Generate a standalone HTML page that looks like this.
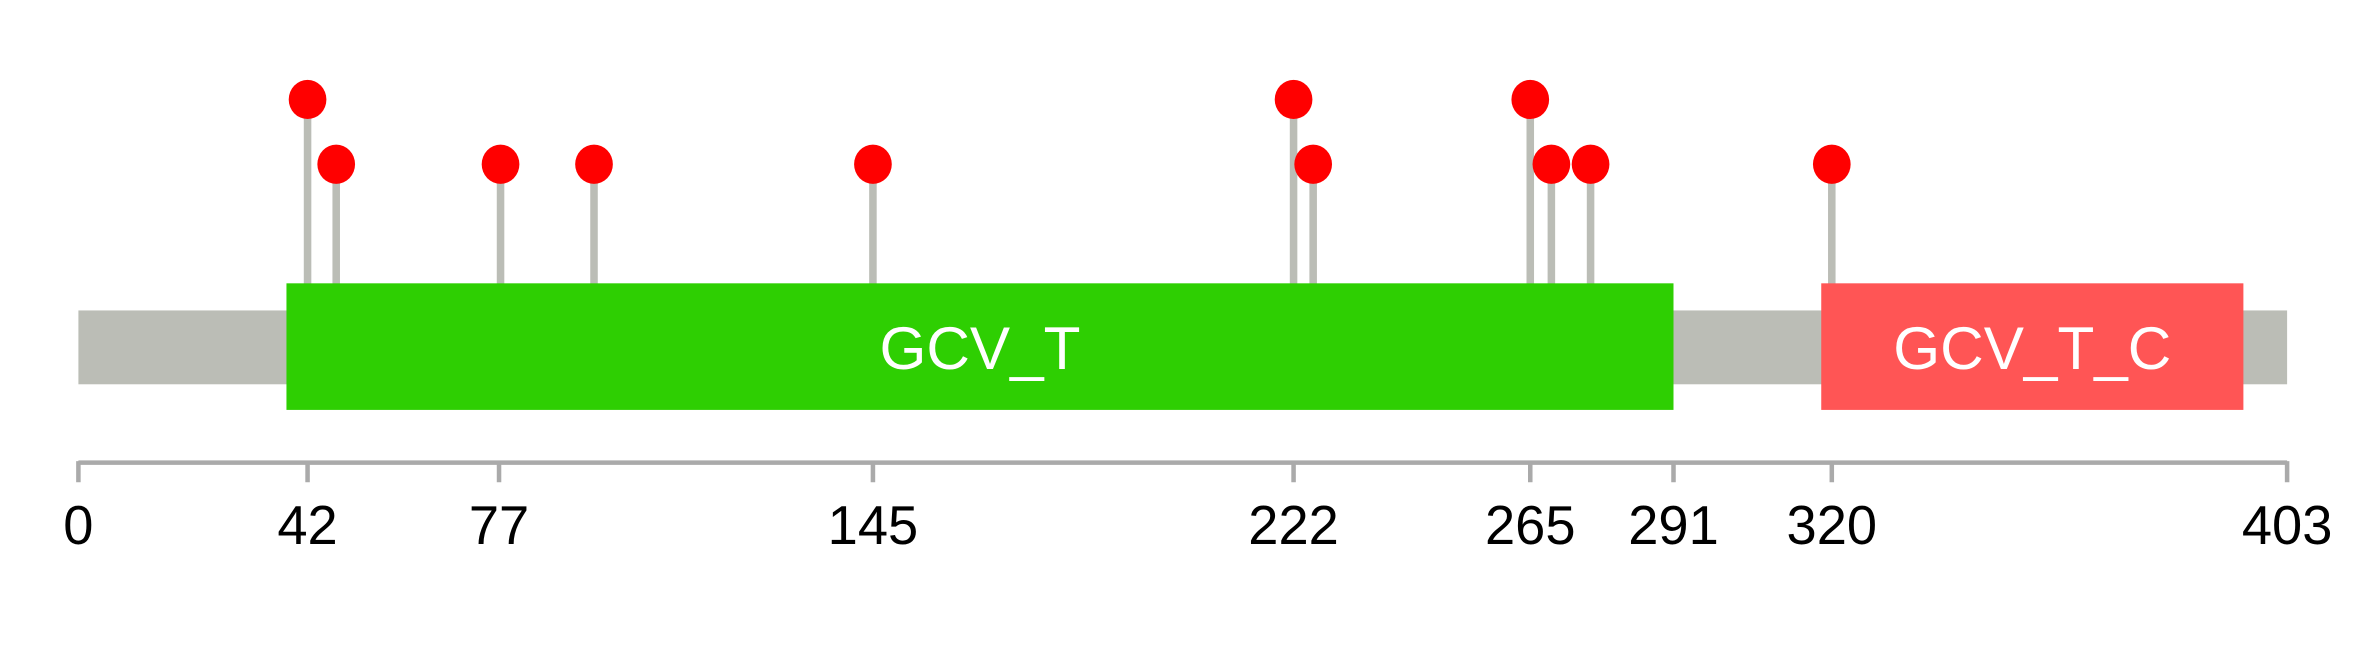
<!DOCTYPE html>
<html><head><meta charset="utf-8"><style>html,body{margin:0;padding:0;background:#fff}svg{display:block}</style></head>
<body>
<svg width="2364" height="645" viewBox="0 0 1568 428" preserveAspectRatio="none" xmlns="http://www.w3.org/2000/svg" font-family="Liberation Sans, sans-serif">
<rect x="52" y="206" width="1465" height="49" fill="#bbbdb6"/>
<g stroke="#bbbdb6" stroke-width="5">
<line x1="204" y1="66" x2="204" y2="190"/>
<line x1="223" y1="109" x2="223" y2="190"/>
<line x1="332" y1="109" x2="332" y2="190"/>
<line x1="394" y1="109" x2="394" y2="190"/>
<line x1="579" y1="109" x2="579" y2="190"/>
<line x1="858" y1="66" x2="858" y2="190"/>
<line x1="871" y1="109" x2="871" y2="190"/>
<line x1="1015" y1="66" x2="1015" y2="190"/>
<line x1="1029" y1="109" x2="1029" y2="190"/>
<line x1="1055" y1="109" x2="1055" y2="190"/>
<line x1="1215" y1="109" x2="1215" y2="190"/>
</g>
<rect x="190" y="188" width="920" height="84" fill="#2ecf02"/>
<rect x="1208" y="188" width="280" height="84" fill="#ff5555"/>
<text x="650" y="245" font-size="40" fill="#fff" text-anchor="middle">GCV_T</text>
<text x="1348" y="245" font-size="40" fill="#fff" text-anchor="middle">GCV_T_C</text>
<g fill="#ff0000">
<ellipse cx="204" cy="66" rx="12.5" ry="13"/>
<ellipse cx="223" cy="109" rx="12.5" ry="13"/>
<ellipse cx="332" cy="109" rx="12.5" ry="13"/>
<ellipse cx="394" cy="109" rx="12.5" ry="13"/>
<ellipse cx="579" cy="109" rx="12.5" ry="13"/>
<ellipse cx="858" cy="66" rx="12.5" ry="13"/>
<ellipse cx="871" cy="109" rx="12.5" ry="13"/>
<ellipse cx="1015" cy="66" rx="12.5" ry="13"/>
<ellipse cx="1029" cy="109" rx="12.5" ry="13"/>
<ellipse cx="1055" cy="109" rx="12.5" ry="13"/>
<ellipse cx="1215" cy="109" rx="12.5" ry="13"/>
</g>
<g stroke="#aaaaaa" stroke-width="3">
<line x1="52" y1="307" x2="1517" y2="307"/>
<line x1="52" y1="306" x2="52" y2="320"/>
<line x1="204" y1="306" x2="204" y2="320"/>
<line x1="331" y1="306" x2="331" y2="320"/>
<line x1="579" y1="306" x2="579" y2="320"/>
<line x1="858" y1="306" x2="858" y2="320"/>
<line x1="1015" y1="306" x2="1015" y2="320"/>
<line x1="1110" y1="306" x2="1110" y2="320"/>
<line x1="1215" y1="306" x2="1215" y2="320"/>
<line x1="1517" y1="306" x2="1517" y2="320"/>
</g>
<g font-size="36" fill="#000" text-anchor="middle">
<text x="52" y="361">0</text>
<text x="204" y="361">42</text>
<text x="331" y="361">77</text>
<text x="579" y="361">145</text>
<text x="858" y="361">222</text>
<text x="1015" y="361">265</text>
<text x="1110" y="361">291</text>
<text x="1215" y="361">320</text>
<text x="1517" y="361">403</text>
</g>
</svg>
</body></html>
